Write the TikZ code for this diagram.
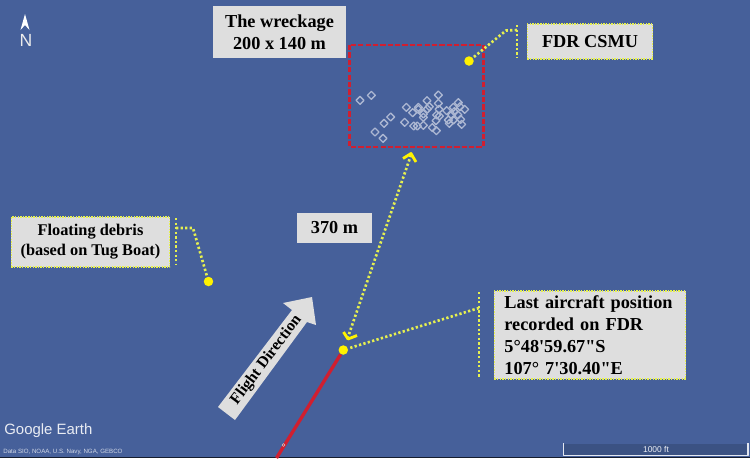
\documentclass[tikz,border=0pt]{standalone}
\usepackage{fontspec}
\setmainfont{Liberation Serif}
\newfontfamily\coordfont{Liberation Serif}
\newfontfamily\earthfont{Liberation Sans}
\definecolor{seablue}{HTML}{46609A}
\definecolor{boxgray}{HTML}{DEDEDE}
\definecolor{dotyellow}{HTML}{E6F050}
\definecolor{spotyellow}{HTML}{FFF200}
\definecolor{wreckred}{HTML}{D01F30}
\tikzset{
	labelbox/.style={fill=boxgray, font=\bfseries\fontsize{10.4}{12.5}\selectfont, text=black, inner sep=0pt},
	dotbox/.style={labelbox, draw=dotyellow, line width=0.8pt, dash pattern=on 0.8pt off 0.7pt},
	dotline/.style={draw=dotyellow, line width=1.5pt, dash pattern=on 1.3pt off 1.3pt},
	arrowhead/.style={draw=spotyellow, line width=1.6pt},
	spot/.style={circle, fill=spotyellow, inner sep=0pt, minimum size=5.4pt},
	wreckitem/.style={draw=white!55!seablue, line width=0.75pt, rotate=45, minimum size=3.2pt, inner sep=0pt}
}
\begin{document}
\begin{tikzpicture}[x=0.02cm, y=-0.02cm, >=stealth, line join=round]
	\fill[seablue] (0,0) rectangle (750,458);
	\useasboundingbox (0,0) rectangle (750,458);
	\fill[black!70!seablue] (0,456.8) rectangle (750,458);

	\coordinate (T1) at (276.5,458);
	\node[spot] (L) at (343.3,350) {};
	\node[spot] (D) at (208.5,281.5) {};
	\node[spot] (F) at (469,61) {};
	\coordinate (B1) at (176,228);
	\coordinate (B2) at (193,228);
	\coordinate (B3) at (479,308);
	\coordinate (B4) at (517,30);
	\coordinate (B5) at (506,30.5);

	% track
	\draw[wreckred, line width=1.9pt] (T1) -- (L);
	\node[draw=white!60!gray, line width=0.3pt, circle, inner sep=0.6pt] (M) at (283.5,445) {};

	% wreckage field
	\draw[wreckred, line width=1.6pt, dash pattern=on 3pt off 1.2pt] (349.7,45) rectangle (483.3,147);
	\foreach \p/\q in {60/211,94/196,295/195,261/212,199/232,218/248,235/232,235/238,262/237,268/230,295/220,297/238,250/252,250/262,152/261,132/280,194/277,105/306,129/325,221/288,232/288,250/286,277/293,289/302,288/272,298/258,290/255,320/242,340/232,355/218,360/230,374/238,343/245,335/255,354/255,325/270,328/280,340/270,362/268,365/283} {
		\node[wreckitem] at ({340+\p/3},{30+\q/3}) {};
	}

	% labels
	\node[labelbox, align=center, minimum width=75.4pt, minimum height=29.5pt] (W) at (279.5,32) {The wreckage\\200 x 140 m};
	\node[dotbox, align=center, minimum width=71.4pt, minimum height=19.8pt] (C) at (590,41.5) {FDR CSMU};
	\node[labelbox, align=center, minimum width=42.5pt, minimum height=17pt] (R) at (334.5,228) {370 m};
	\node[dotbox, align=center, minimum width=90pt, minimum height=28.3pt, font=\bfseries\fontsize{9.3}{11.5}\selectfont] (S) at (90.5,242) {Floating debris\\(based on Tug Boat)};
	\node[dotbox, align=left, inner xsep=5.7pt, text width=97.4pt, minimum height=49.9pt] (P) at (590,335) {Last aircraft position\\recorded on FDR\\{\coordfont 5°48'59.67"S}\\{\coordfont 107° 7'30.40"E}};

	% leaders
	\draw[dotline] (176,218) -- (176,265);
	\draw[dotline] (B1) -- (B2) -- (D);
	\draw[dotline] (479,292) -- (479,378);
	\draw[dotline] (B3) -- (L);
	\draw[dotline] (517,25) -- (517,58);
	\draw[dotline] (B4) -- (B5) -- (F);
	\coordinate (A1) at (411,155);
	\coordinate (A2) at (348,337);
	\draw[dotline] (A1) -- (A2);
	\draw[arrowhead] (403,158.5) -- (411,153.5) -- (416,162);
	\draw[arrowhead] (343.5,332) -- (348,339) -- (357,335.5);

	% direction arrow
	\fill[boxgray] (218,407) -- (292,310) -- (283,303) -- (312,297) -- (316,325) -- (307,322) -- (235,420) -- cycle;
	\node[rotate=53, font=\bfseries\fontsize{9}{10}\selectfont] (A) at (266.5,360) {Flight Direction};

	% north mark
	\fill[white] (25,14) -- (29.5,30) -- (25,25) -- (20.5,30) -- cycle;
	\node[text=white!85!gray, font=\earthfont\fontsize{10}{10}\selectfont, inner sep=0pt] (N) at (26,40.5) {N};

	% imagery credits
	\node[text=white!88!seablue, font=\earthfont\fontsize{8.5}{10}\selectfont, anchor=west, inner sep=0pt] (G) at (4,431) {Google Earth};
	\node[text=white!75!seablue, font=\earthfont\fontsize{3.5}{4}\selectfont, anchor=west, inner sep=0pt] (E) at (3,451.7) {Data SIO, NOAA, U.S. Navy, NGA, GEBCO};
	\fill[black!15!seablue] (563.5,444) rectangle (748,455);
	\draw[white!85!seablue, line width=0.7pt] (563.5,443) -- (563.5,455.5) -- (748,455.5) -- (748,443);
	\node[text=white!90!seablue, font=\earthfont\fontsize{4.8}{5}\selectfont, inner sep=0pt] (K) at (656,449) {1000 ft};
\end{tikzpicture}
\end{document}
